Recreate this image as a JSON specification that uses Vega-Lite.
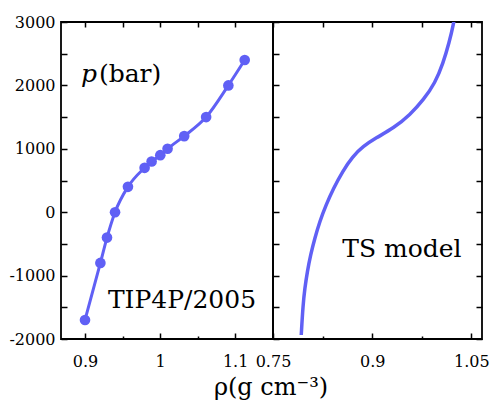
{
  "$schema": "https://vega.github.io/schema/vega-lite/v6.json",
  "padding": {"left": 7, "top": 11, "right": 5, "bottom": 5},
  "datasets": {
    "tip": [
      {"rho": 0.900, "p": -1700},
      {"rho": 0.9205, "p": -800},
      {"rho": 0.9293, "p": -400},
      {"rho": 0.940, "p": 0},
      {"rho": 0.9572, "p": 400},
      {"rho": 0.9794, "p": 700},
      {"rho": 0.9887, "p": 800},
      {"rho": 1.0003, "p": 900},
      {"rho": 1.010, "p": 1000},
      {"rho": 1.0322, "p": 1200},
      {"rho": 1.0614, "p": 1500},
      {"rho": 1.091, "p": 2000},
      {"rho": 1.1128, "p": 2400}
    ],
    "ts": [
      {"rho": 0.7927, "p": -1937},
      {"rho": 0.7954, "p": -1463},
      {"rho": 0.7981, "p": -1201},
      {"rho": 0.8019, "p": -937},
      {"rho": 0.8068, "p": -673},
      {"rho": 0.8132, "p": -411},
      {"rho": 0.8207, "p": -147},
      {"rho": 0.8302, "p": 116},
      {"rho": 0.8415, "p": 378},
      {"rho": 0.8551, "p": 642},
      {"rho": 0.8703, "p": 879},
      {"rho": 0.8861, "p": 1037},
      {"rho": 0.9050, "p": 1168},
      {"rho": 0.9324, "p": 1326},
      {"rho": 0.9574, "p": 1538},
      {"rho": 0.9776, "p": 1774},
      {"rho": 0.9951, "p": 2037},
      {"rho": 1.0072, "p": 2352},
      {"rho": 1.0162, "p": 2668},
      {"rho": 1.0233, "p": 2984},
      {"rho": 1.0256, "p": 3150}
    ]
  },
  "bounds": "flush",
  "spacing": 0,
  "hconcat": [
    {
      "width": 212,
      "height": 317,
      "resolve": {"axis": {"x": "independent", "y": "independent"}},
      "layer": [
        {
          "data": {"name": "tip"},
          "mark": {"type": "line", "interpolate": "monotone", "color": "#6060f5", "strokeWidth": 3},
          "encoding": {
            "x": {"field": "rho", "type": "quantitative", "scale": {"domain": [0.868, 1.1505], "nice": false, "zero": false},
              "axis": {"orient": "bottom", "title": null, "values": [0.9, 1, 1.1], "labelExpr": "'' + datum.value", "tickSize": 6, "offset": -6, "labelPadding": 14}},
            "y": {"field": "p", "type": "quantitative", "scale": {"domain": [-2000, 3000], "nice": false, "zero": false},
              "axis": {"orient": "left", "title": null, "values": [-2000, -1500, -1000, -500, 0, 500, 1000, 1500, 2000, 2500, 3000],
                "labelExpr": "datum.value % 1000 === 0 ? '' + datum.value : ''", "tickSize": 6, "offset": -6, "labelPadding": 6}}
          }
        },
        {
          "data": {"name": "tip"},
          "mark": {"type": "point", "filled": true, "size": 113, "color": "#6060f5", "opacity": 1},
          "encoding": {
            "x": {"field": "rho", "type": "quantitative", "scale": {"domain": [0.868, 1.1505], "nice": false, "zero": false},
              "axis": {"orient": "top", "title": null, "labels": false, "values": [0.9, 0.95, 1, 1.05, 1.1], "tickSize": 5, "offset": -5}},
            "y": {"field": "p", "type": "quantitative", "scale": {"domain": [-2000, 3000], "nice": false, "zero": false}, "axis": null}
          }
        },
        {
          "data": {"values": [{"rho": 0.8945, "p": 2047, "label": "p"}]},
          "mark": {"type": "text", "align": "left", "baseline": "alphabetic", "font": "DejaVu Serif", "fontStyle": "italic", "fontSize": 25, "color": "black"},
          "encoding": {
            "x": {"field": "rho", "type": "quantitative", "scale": {"domain": [0.868, 1.1505], "nice": false, "zero": false},
              "axis": {"orient": "bottom", "title": null, "labels": false, "values": [0.95, 1.05], "tickSize": 3, "offset": -3}},
            "y": {"field": "p", "type": "quantitative", "scale": {"domain": [-2000, 3000], "nice": false, "zero": false}, "axis": null},
            "text": {"field": "label"}
          }
        },
        {
          "data": {"values": [{"rho": 0.9185, "p": 2047, "label": "(bar)"}, {"rho": 0.9305, "p": -1507, "label": "TIP4P/2005"}]},
          "mark": {"type": "text", "align": "left", "baseline": "alphabetic", "font": "DejaVu Serif", "fontSize": 25, "color": "black"},
          "encoding": {
            "x": {"field": "rho", "type": "quantitative", "scale": {"domain": [0.868, 1.1505], "nice": false, "zero": false}, "axis": null},
            "y": {"field": "p", "type": "quantitative", "scale": {"domain": [-2000, 3000], "nice": false, "zero": false}, "axis": null},
            "text": {"field": "label"}
          }
        }
      ]
    },
    {
      "width": 209,
      "height": 317,
      "resolve": {"axis": {"x": "independent", "y": "independent"}},
      "layer": [
        {
          "data": {"name": "ts"},
          "mark": {"type": "line", "interpolate": "basis", "color": "#6060f5", "strokeWidth": 3.5, "clip": true},
          "encoding": {
            "x": {"field": "rho", "type": "quantitative", "scale": {"domain": [0.75, 1.066], "nice": false, "zero": false},
              "axis": {"orient": "bottom", "title": null, "values": [0.75, 0.9, 1.05], "labelExpr": "'' + datum.value", "tickSize": 6, "offset": -6, "labelPadding": 14}},
            "y": {"field": "p", "type": "quantitative", "scale": {"domain": [-2000, 3000], "nice": false, "zero": false},
              "axis": {"orient": "left", "title": null, "labels": false, "values": [-2000, -1500, -1000, -500, 0, 500, 1000, 1500, 2000, 2500, 3000], "tickSize": 6, "offset": -6}}
          }
        },
        {
          "data": {"name": "ts"},
          "mark": {"type": "line", "opacity": 0},
          "encoding": {
            "x": {"field": "rho", "type": "quantitative", "scale": {"domain": [0.75, 1.066], "nice": false, "zero": false},
              "axis": {"orient": "top", "title": null, "labels": false, "values": [0.75, 0.825, 0.9, 0.975, 1.05], "tickSize": 5, "offset": -5}},
            "y": {"field": "p", "type": "quantitative", "scale": {"domain": [-2000, 3000], "nice": false, "zero": false},
              "axis": {"orient": "right", "title": null, "labels": false, "values": [-2000, -1500, -1000, -500, 0, 500, 1000, 1500, 2000, 2500, 3000], "tickSize": 6, "offset": -6}}
          }
        },
        {
          "data": {"values": [{"rho": 0.8547, "p": -701, "label": "TS model"}]},
          "mark": {"type": "text", "align": "left", "baseline": "alphabetic", "font": "DejaVu Serif", "fontSize": 25, "color": "black"},
          "encoding": {
            "x": {"field": "rho", "type": "quantitative", "scale": {"domain": [0.75, 1.066], "nice": false, "zero": false},
              "axis": {"orient": "bottom", "title": null, "labels": false, "values": [0.825, 0.975], "tickSize": 3, "offset": -3}},
            "y": {"field": "p", "type": "quantitative", "scale": {"domain": [-2000, 3000], "nice": false, "zero": false}, "axis": null},
            "text": {"field": "label"}
          }
        }
      ]
    }
  ],
  "title": {"text": "ρ(g cm⁻³)", "orient": "bottom", "anchor": "middle", "dx": 22, "font": "DejaVu Serif", "fontSize": 24, "fontWeight": "normal", "color": "black", "offset": 6},
  "config": {
    "font": "DejaVu Serif",
    "view": {"stroke": "black", "strokeWidth": 1.8},
    "axis": {"domain": false, "grid": false, "labelFont": "DejaVu Serif", "labelFontSize": 16, "labelColor": "black", "tickColor": "black", "tickWidth": 1.5, "labelFlush": false, "labelOverlap": false, "minExtent": 0}
  }
}
